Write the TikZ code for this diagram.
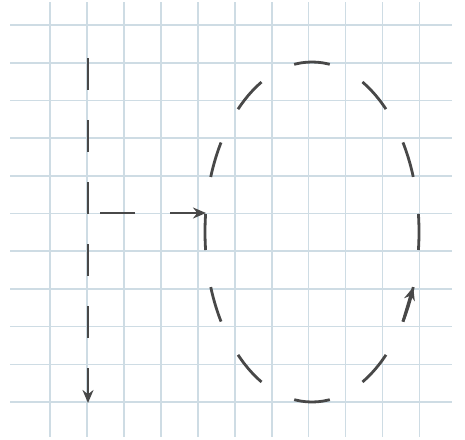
\documentclass[tikz,border=0pt]{standalone}
\usetikzlibrary{arrows.meta}
\definecolor{gridc}{RGB}{206,220,228}
\definecolor{inkc}{RGB}{72,72,72}
\tikzset{
  gridline/.style={draw=gridc, line width=1.6pt},
  ink/.style={draw=inkc, line width=2.8pt},
  tip/.style={-{Stealth[length=13pt,width=11pt]}},
}
\begin{document}
\begin{tikzpicture}[x=1pt,y=-1pt]
\useasboundingbox[fill=white] (0,0) rectangle (465,439);
% grid
\foreach \k in {0,...,10} {
  \draw[gridline] ({50+36.95*\k},2) -- ({50+36.95*\k},437);
  \draw[gridline] (10,{25+37.7*\k}) -- (452,{25+37.7*\k});
}
% named points
\coordinate (top) at (88,58);
\coordinate (junc) at (88,213);
\coordinate (bot) at (88,403);
\coordinate (entry) at (206,213);
\coordinate (ctr) at (312,232);
\coordinate (ra) at (402.9,321.7);
\coordinate (rb) at (413.2,287.2);
% vertical dashed arrow
\draw[ink, tip, dash pattern=on 32pt off 30pt] (top) -- (bot);
% horizontal branch
\draw[ink, tip, dash pattern=on 35pt off 35pt, dash phase=58pt] (junc) -- (entry);
% dashed ellipse
\draw[ink, dash pattern=on 36pt off 37.46pt, dash phase=18pt] (ctr) ellipse [x radius=107, y radius=170];
% arrow on the ellipse
\draw[ink, tip] (ra) -- (rb);
\end{tikzpicture}
\end{document}
